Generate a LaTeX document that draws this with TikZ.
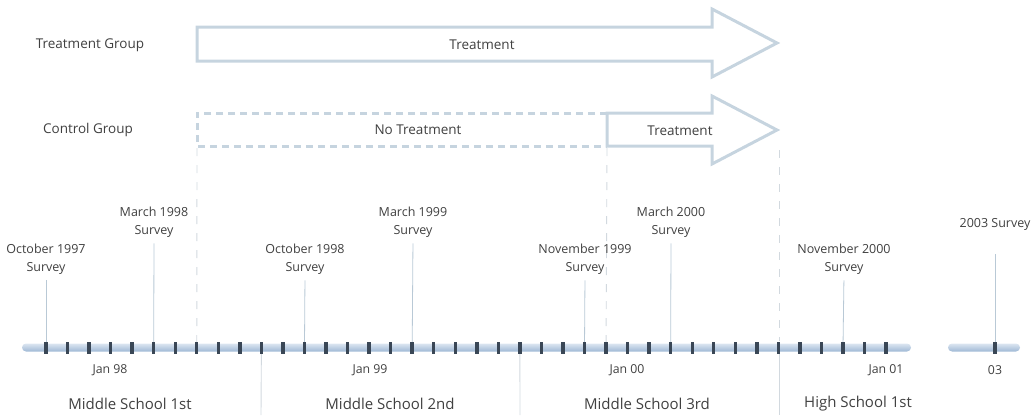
\documentclass[tikz,border=0pt]{standalone}
\usepackage{fontspec}
\setmainfont{Open Sans}
\definecolor{arrowc}{HTML}{C6D4DF}
\definecolor{txt}{HTML}{404040}
\definecolor{tickc}{HTML}{3A4756}
\definecolor{guide}{HTML}{D2D9DF}
\definecolor{survline}{HTML}{B9C9D6}
\definecolor{bartop}{HTML}{DCE6F1}
\definecolor{barbot}{HTML}{9FB8D5}
\begin{document}
\begin{tikzpicture}[x=1pt,y=-1pt,
  grouplbl/.style={text=txt,font=\fontsize{13.5}{15}\selectfont,inner sep=0pt},
  arrowlbl/.style={text=txt,font=\fontsize{13.5}{15}\selectfont,inner sep=0pt},
  survey/.style={text=txt,font=\fontsize{12.5}{18}\selectfont,align=center,inner sep=0pt},
  monthlbl/.style={text=txt,font=\fontsize{12.3}{14}\selectfont,inner sep=0pt},
  schoollbl/.style={text=txt,font=\fontsize{15}{18}\selectfont,inner sep=0pt},
  bigarrow/.style={draw=arrowc,line width=3pt,line join=miter},
  guideline/.style={draw=guide,line width=0.9pt,dash pattern=on 8pt off 9pt},
  boundary/.style={draw=guide,line width=0.9pt},
  survlink/.style={draw=survline,line width=0.8pt,shorten <=6pt},
  bar/.style={rounded corners=4pt,top color=bartop,bottom color=barbot,draw=none},
  tickmark/.style={fill=tickc,draw=none}]
\useasboundingbox (0,0) rectangle (1032,415);

% tick coordinates
\foreach \i in {0,...,39}{
  \coordinate (t\i) at ({46+\i*21.54},347.5);
}
\coordinate (t03) at (995,347.5);

% arrows
\draw[bigarrow] (197,27) -- (712,27) -- (712,9) -- (777,43) -- (712,77) -- (712,61) -- (197,61) -- cycle;
\draw[bigarrow,dash pattern=on 7pt off 5pt] (607,113) -- (197,113) -- (197,146) -- (607,146);
\draw[bigarrow] (607,113) -- (712,113) -- (712,96) -- (777,130) -- (712,164) -- (712,146) -- (607,146) -- cycle;

\node[grouplbl] (tg) at (90,45) {Treatment Group};
\node[grouplbl] (cg) at (88,130) {Control Group};
\node[arrowlbl] (tr1) at (482,45) {Treatment};
\node[arrowlbl] (ntr) at (418,130) {No Treatment};
\node[arrowlbl] (tr2) at (680,131) {Treatment};

% guides
\coordinate (g1) at (197,148);
\coordinate (g2) at (607,148);
\coordinate (g3) at (779,150);
\draw[guideline] (g1) -- (t7);
\draw[guideline] (g2) -- (t26);
\draw[guideline] (g3) -- (779,341);
\coordinate (b1) at (261,415);
\coordinate (b2) at (520,415);
\coordinate (b3) at (779,415);
\draw[boundary] (t10) -- (b1);
\draw[boundary] (t22) -- (b2);
\draw[boundary] (779,347) -- (b3);

% surveys
\node[survey] (s1) at (46,259) {October 1997\\Survey};
\node[survey] (s2) at (154,222) {March 1998\\Survey};
\node[survey] (s3) at (305,259) {October 1998\\Survey};
\node[survey] (s4) at (413,222) {March 1999\\Survey};
\node[survey] (s5) at (585,259) {November 1999\\Survey};
\node[survey] (s6) at (671,222) {March 2000\\Survey};
\node[survey] (s7) at (844,259) {November 2000\\Survey};
\node[survey] (s8) at (995,224) {2003 Survey};
\draw[survlink] (s1.south) -- (t0);
\draw[survlink] (s2.south) -- (t5);
\draw[survlink] (s3.south) -- (t12);
\draw[survlink] (s4.south) -- (t17);
\draw[survlink] (s5.south) -- (t25);
\draw[survlink] (s6.south) -- (t29);
\draw[survlink] (s7.south) -- (t37);
\draw[survlink,shorten <=24pt] (s8.south) -- (t03);

% bars
\path[bar] (22,343.5) rectangle (911,351.5);
\path[bar] (948,343.5) rectangle (1020,351.5);
\foreach \i in {0,...,39}{
  \path[tickmark] ([xshift=-1.7pt,yshift=6pt]t\i) rectangle ([xshift=1.7pt,yshift=-6pt]t\i);
}
\path[tickmark] ([xshift=-1.7pt,yshift=6pt]t03) rectangle ([xshift=1.7pt,yshift=-6pt]t03);

% month labels
\node[monthlbl] (m1) at (110,370) {Jan 98};
\node[monthlbl] (m2) at (370,370) {Jan 99};
\node[monthlbl] (m3) at (627,370) {Jan 00};
\node[monthlbl] (m4) at (886,370) {Jan 01};
\node[monthlbl] (m5) at (995,370) {03};

% school labels
\node[schoollbl] (sc1) at (130,404) {Middle School 1st};
\node[schoollbl] (sc2) at (390,404) {Middle School 2nd};
\node[schoollbl] (sc3) at (647,404) {Middle School 3rd};
\node[schoollbl] (sc4) at (858,404) {High School 1st};
\end{tikzpicture}
\end{document}
